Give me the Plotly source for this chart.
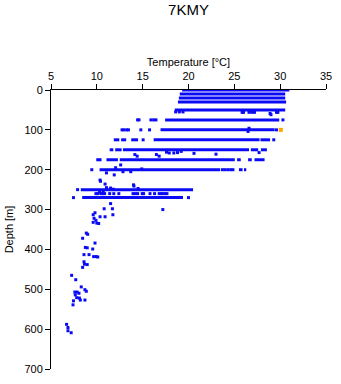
import plotly.graph_objects as go

# ---- data ----
title_text = "7KMY"
x_title = "Temperature [°C]"
y_title = "Depth [m]"
x_ticks = [5, 10, 15, 20, 25, 30, 35]
y_ticks = [0, 100, 200, 300, 400, 500, 600, 700]

# dense observation rows at standard depths: (depth, [(tmin, tmax), ...])
row_depths = [0, 10, 20, 30, 50, 75, 100, 125, 150, 175, 200, 250, 270]
row_segments = [
    [(19.3, 31.0)],
    [(19.05, 30.55)],
    [(18.95, 30.55)],
    [(18.85, 30.65)],
    [(18.5, 30.55)],
    [(17.45, 29.9)],
    [(16.95, 29.4)],
    [(11.85, 12.45), (12.65, 13.2), (13.75, 14.5), (16.2, 27.75), (27.85, 28.9)],
    [(11.4, 11.8), (12.0, 12.7), (12.85, 26.6), (26.8, 27.6), (27.9, 28.55)],
    [(11.05, 12.3), (12.5, 25.05), (25.3, 25.7), (26.5, 26.9), (27.2, 28.3)],
    [(10.3, 23.45), (25.5, 25.9), (26.05, 26.3)],
    [(8.25, 20.5)],
    [(8.4, 19.4)],
]

# individual observations
point_temp = [
    18.6, 19.0, 19.4, 25.85, 26.0, 26.6, 26.9, 27.2, 28.9, 29.0, 29.6, 29.75,
    14.45, 14.6, 15.9, 16.2, 16.45, 30.3,
    12.75, 12.95, 13.25, 13.45, 14.8, 15.75, 26.6, 26.5, 29.6,
    15.05, 29.3,
    14.15, 14.4, 16.5, 16.8, 17.6, 17.9, 18.4, 18.8, 19.2, 20.6, 23.0, 27.7,
    10.1, 10.35,
    12.05, 12.6, 11.05, 11.9, 12.85, 13.7, 14.9,
    9.45, 23.7, 24.0, 24.3, 24.6, 24.85,
    10.35, 10.9, 11.05, 11.5, 11.8, 14.0, 14.5, 10.4, 14.05,
    7.9,
    9.9, 10.1, 10.45, 10.65, 10.85, 11.4, 11.85, 12.4, 13.95, 14.2, 14.45,
    14.95, 15.1, 15.8, 16.3, 16.8, 17.0, 17.2, 17.45, 17.65, 10.3, 10.7,
    7.45, 20.0,
    11.5, 10.8, 11.7, 17.2, 9.8, 9.6, 11.75, 10.35, 10.9, 9.7, 9.9, 9.6, 10.0,
    10.2, 8.85, 9.0, 8.45, 9.8, 8.75, 8.95, 9.55, 8.6, 9.15, 9.65, 9.93, 10.1,
    8.6, 8.65, 8.95, 8.45, 7.25, 7.7, 8.3, 8.7, 8.85, 7.6, 7.85, 8.05, 7.65,
    7.8, 8.1, 8.2, 8.7, 7.45, 7.4, 6.7, 6.85, 6.85, 7.2,
]
point_depth = [
    55, 55, 55, 56, 56, 56, 56, 56, 59, 62, 56, 56,
    75, 75, 75, 75, 75, 75,
    100, 100, 100, 100, 100, 100, 96, 104, 100,
    125, 125,
    162, 166, 162, 166, 156, 158, 158, 157, 154, 159, 161, 157,
    175, 175,
    195, 188, 208, 213, 205, 205, 198,
    200, 200, 200, 200, 200, 200,
    226, 236, 245, 246, 249, 238, 247, 229, 241,
    250,
    260, 260, 260, 260, 260, 260, 260, 260, 260, 260, 260,
    260, 260, 260, 260, 260, 260, 260, 260, 260, 257, 257,
    270, 270,
    285, 298, 298, 300, 308, 313, 313, 318, 318, 322, 327, 332, 334,
    335, 359, 362, 372, 384, 395, 396, 399, 413, 413, 418, 418, 419,
    431, 437, 438, 445, 465, 476, 494, 501, 505, 507, 507, 510, 514,
    521, 522, 527, 527, 529, 539, 588, 596, 604, 609,
]

# highlighted observation
hl_temp = [30.07]
hl_depth = [100]

BLUE = "#0a0af5"
ORANGE = "#ffa500"

# build row line segments
seg_x, seg_y = [], []
for d, segs in zip(row_depths, row_segments):
    for t0, t1 in segs:
        seg_x += [t0, t1, None]
        seg_y += [d, d, None]

fig = go.Figure()
fig.add_trace(go.Scatter(x=seg_x, y=seg_y, mode="lines",
                         line=dict(color=BLUE, width=3), hoverinfo="skip"))
fig.add_trace(go.Scatter(x=point_temp, y=point_depth, mode="markers",
                         marker=dict(symbol="square", size=3, color=BLUE,
                                     line=dict(width=0))))
fig.add_trace(go.Scatter(x=hl_temp, y=hl_depth, mode="markers",
                         marker=dict(symbol="square", size=4, color=ORANGE,
                                     line=dict(width=0))))

font_family = "Liberation Sans, Arial, sans-serif"
fig.update_layout(
    width=341, height=384,
    margin=dict(l=48, r=9, t=90, b=9),
    paper_bgcolor="white", plot_bgcolor="white",
    showlegend=False,
    font=dict(family=font_family, size=11, color="black"),
    title=dict(text=title_text, x=0.5, xref="paper", y=1 - 10 / 384,
               yref="container", yanchor="middle", xanchor="center",
               font=dict(size=15, color="black")),
    xaxis=dict(side="top", range=[5, 35], tickvals=x_ticks,
               showline=True, linecolor="black", linewidth=1,
               ticks="outside", ticklen=5, tickcolor="black",
               showgrid=False, zeroline=False,
               title=dict(text=x_title, standoff=0, font=dict(size=11))),
    yaxis=dict(range=[700, 0], tickvals=y_ticks,
               showline=True, linecolor="black", linewidth=1,
               ticks="outside", ticklen=5, tickcolor="black",
               showgrid=False, zeroline=False,
               title=dict(text=y_title, standoff=8, font=dict(size=11))),
)

fig.write_html("out.html")
